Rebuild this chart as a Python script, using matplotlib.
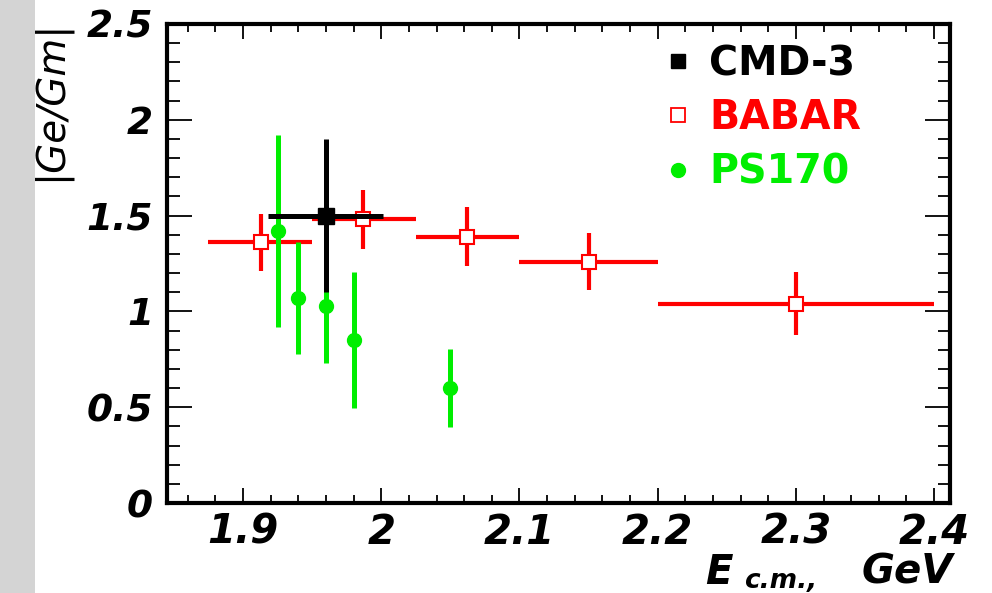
import numpy as np
import matplotlib
matplotlib.use("Agg")
import matplotlib.pyplot as plt
from matplotlib.lines import Line2D
from matplotlib.patches import Rectangle
from matplotlib.ticker import MultipleLocator

plt.rcParams['font.family'] = ['DejaVu Sans']

# CMD-3
cmd_x = [1.96]
cmd_y = [1.50]
cmd_xlo = [1.918]
cmd_xhi = [2.001]
cmd_err = [0.40]

# BABAR (bins)
babar_x = [1.913, 1.987, 2.062, 2.150, 2.300]
babar_y = [1.36, 1.48, 1.39, 1.26, 1.04]
babar_xlo = [1.875, 1.950, 2.025, 2.100, 2.200]
babar_xhi = [1.950, 2.025, 2.100, 2.200, 2.400]
babar_err = [0.15, 0.155, 0.155, 0.15, 0.165]

# PS170
ps_x = [1.925, 1.940, 1.960, 1.980, 2.050]
ps_y = [1.42, 1.07, 1.03, 0.85, 0.60]
ps_err = [0.50, 0.29, 0.30, 0.355, 0.205]

x_ticks = [1.9, 2.0, 2.1, 2.2, 2.3, 2.4]
x_ticklabels = ['1.9', '2', '2.1', '2.2', '2.3', '2.4']
y_ticks = [0, 0.5, 1, 1.5, 2, 2.5]
y_ticklabels = ['0', '0.5', '1', '1.5', '2', '2.5']

RED = '#ff0000'
GREEN = '#00ee00'
W, H = 992, 593

fig = plt.figure(figsize=(W / 100, H / 100), dpi=100)
fig.patch.set_facecolor('white')
# grey strip on the left edge
fig.patches.append(Rectangle((0, 0), 35 / W, 1, transform=fig.transFigure,
                             facecolor='#d4d4d4', edgecolor='none', zorder=0))

ax = fig.add_axes([167 / W, 1 - 503 / H, (950 - 167) / W, (503 - 24) / H])
ax.set_xlim(1.845, 2.4115)
ax.set_ylim(0, 2.5)

def bin_err(x, lo, hi):
    x = np.array(x)
    return [x - np.array(lo), np.array(hi) - x]

ax.errorbar(babar_x, babar_y, xerr=bin_err(babar_x, babar_xlo, babar_xhi), yerr=babar_err,
            fmt='s', color=RED, ecolor=RED, elinewidth=3, capsize=0,
            markersize=10, markerfacecolor='white', markeredgecolor=RED,
            markeredgewidth=1.5, zorder=3)
ax.errorbar(ps_x, ps_y, yerr=ps_err, fmt='o', color=GREEN, ecolor=GREEN,
            elinewidth=3.6, capsize=0, markersize=10, zorder=4)
ax.errorbar(cmd_x, cmd_y, xerr=bin_err(cmd_x, cmd_xlo, cmd_xhi), yerr=cmd_err,
            fmt='s', color='black', ecolor='black', elinewidth=3.6, capsize=0,
            markersize=11, zorder=5)

for s in ax.spines.values():
    s.set_linewidth(3)

ax.set_xticks(x_ticks)
ax.set_xticklabels(x_ticklabels)
ax.set_yticks(y_ticks)
ax.set_yticklabels(y_ticklabels)
ax.xaxis.set_minor_locator(MultipleLocator(0.02))
ax.yaxis.set_minor_locator(MultipleLocator(0.1))
ax.tick_params(which='both', direction='in', top=True, right=True, width=1.3)
ax.tick_params(axis='x', which='major', length=11, pad=7)
ax.tick_params(axis='x', which='minor', length=6)
ax.tick_params(axis='y', which='major', length=18, pad=10)
ax.tick_params(axis='y', which='minor', length=9)
for lab in ax.get_xticklabels():
    lab.set_fontsize(29)
    lab.set_fontweight('bold')
    lab.set_fontstyle('italic')
for lab in ax.get_yticklabels():
    lab.set_fontsize(27)
    lab.set_fontweight('bold')
    lab.set_fontstyle('italic')

fig.text(50 / W, 1 - 20 / H, '|Ge/Gm|', rotation=90, ha='center', va='top',
         fontsize=28, fontstyle='italic')

# axis title: E, subscript c.m., and unit
title_kw = dict(fontweight='bold', fontstyle='italic', va='baseline')
fig.text(705 / W, 1 - 584 / H, 'E', fontsize=29, ha='left', **title_kw)
fig.text(744 / W, 1 - 588 / H, 'c.m.,', fontsize=19, ha='left', **title_kw)
fig.text(953 / W, 1 - 584 / H, 'GeV', fontsize=29, ha='right', **title_kw)

handles = [
    Line2D([], [], ls='none', marker='s', color='black', markersize=9.5),
    Line2D([], [], ls='none', marker='s', markerfacecolor='white',
           markeredgecolor=RED, markeredgewidth=1.3, markersize=10),
    Line2D([], [], ls='none', marker='o', color=GREEN, markersize=10),
]
ax.legend(handles, ['CMD-3', 'BABAR', 'PS170'], loc='upper left',
          bbox_to_anchor=(658 / W, 1 - 44 / H), bbox_transform=fig.transFigure,
          frameon=False, handlelength=1.0, handletextpad=0.3, labelspacing=0.36,
          borderaxespad=0, borderpad=0,
          prop={'size': 28.5, 'weight': 'bold'},
          labelcolor=['black', RED, GREEN])

fig.savefig('out.png', dpi=100)
